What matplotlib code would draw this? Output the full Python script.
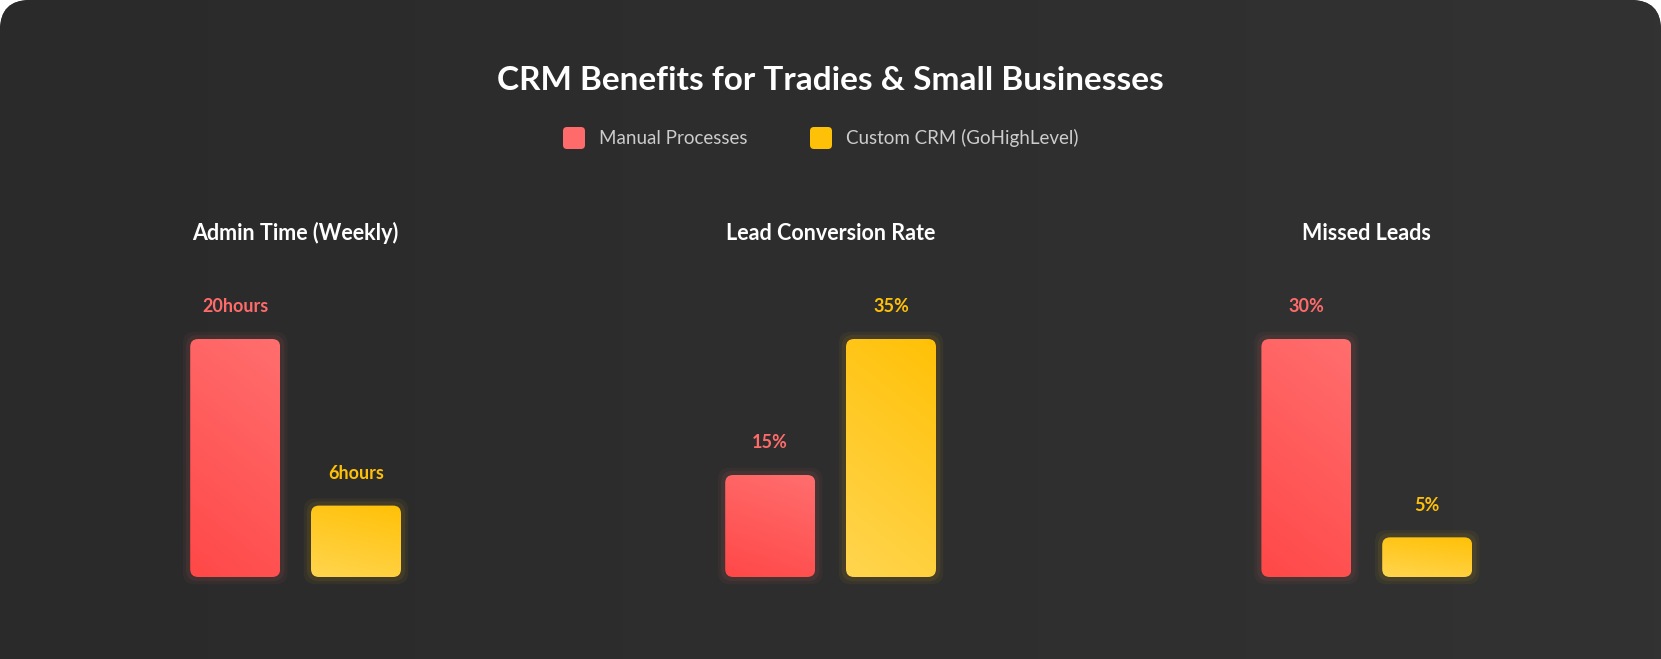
import matplotlib.pyplot as plt
import numpy as np
from matplotlib.patches import FancyBboxPatch
from matplotlib.colors import LinearSegmentedColormap

panel_titles = ["Admin Time (Weekly)", "Lead Conversion Rate", "Missed Leads"]
manual_vals = [20, 15, 30]
crm_vals = [6, 35, 5]
manual_labels = ["20hours", "15%", "30%"]
crm_labels = ["6hours", "35%", "5%"]
legend_names = ["Manual Processes", "Custom CRM (GoHighLevel)"]

W, H = 1661, 659
fig = plt.figure(figsize=(W / 100, H / 100), dpi=100, facecolor="white")
font = ["Lato", "DejaVu Sans"]

# background card, rounded only at the top
bg = fig.add_axes([0, 0, 1, 1])
bg.set_xlim(0, W); bg.set_ylim(0, H); bg.axis("off")
card = FancyBboxPatch((0, -60), W, H + 60, boxstyle="round,pad=0,rounding_size=30",
                      fc="#2d2d2d", ec="none")
bg.add_patch(card)
grad = np.linspace(0, 1, 256).reshape(1, -1)
im = bg.imshow(grad, extent=[0, W, 0, H], cmap=LinearSegmentedColormap.from_list("b", ["#2a2a2a", "#323232"]),
               aspect="auto", zorder=1)
im.set_clip_path(card)

fig.text(0.5, 1 - 81 / H, "CRM Benefits for Tradies & Small Businesses", ha="center", va="center",
         color="white", fontsize=24, fontweight="bold", family=font)

# legend
for x0, name, c in [(563, legend_names[0], "#ff6b6b"), (810, legend_names[1], "#ffc107")]:
    bg.add_patch(FancyBboxPatch((x0, H - 149), 22, 22, boxstyle="round,pad=0,rounding_size=4",
                                fc=c, ec="none", zorder=3))
    bg.text(x0 + 36, H - 138, name, color="#cccccc", fontsize=13.5, va="center", family=font, zorder=3)

red_cm = LinearSegmentedColormap.from_list("r", ["#ff4848", "#ff6e6e"])
yel_cm = LinearSegmentedColormap.from_list("y", ["#ffd54f", "#ffc107"])

centers = [295.6, 830.6, 1366.8]
ax_w = 241.6
ax_b = 1 - 577 / H
ax_h_px = 577 - 339
bar_w = 0.745

for i in range(3):
    ax = fig.add_axes([(centers[i] - ax_w / 2) / W, ax_b, ax_w / W, ax_h_px / H])
    ax.axis("off")
    ax.patch.set_alpha(0)
    top = max(manual_vals[i], crm_vals[i])
    ax.set_xlim(-0.5, 1.5)
    ax.set_ylim(0, top)
    asp = (top / ax_h_px) / (2 / ax_w)
    for j, (v, lab, cm, lc) in enumerate([(manual_vals[i], manual_labels[i], red_cm, "#ff6b6b"),
                                          (crm_vals[i], crm_labels[i], yel_cm, "#ffc107")]):
        # soft glow
        for k, a in [(0.06, 0.05), (0.035, 0.07)]:
            ax.add_patch(FancyBboxPatch((j - bar_w / 2 - k, -k * asp), bar_w + 2 * k, v + 2 * k * asp,
                                        boxstyle="round,pad=0,rounding_size=0.1", mutation_aspect=asp,
                                        fc=lc, ec="none", alpha=a, clip_on=False))
        p = FancyBboxPatch((j - bar_w / 2, 0), bar_w, v, boxstyle="round,pad=0,rounding_size=0.066",
                           mutation_aspect=asp, fc="none", ec="none")
        ax.add_patch(p)
        g = np.linspace(0, 1, 64).reshape(-1, 1) + np.linspace(0, 0.3, 64).reshape(1, -1)
        img = ax.imshow(g, extent=[j - bar_w / 2, j + bar_w / 2, 0, v], cmap=cm, origin="lower",
                        aspect="auto", zorder=2)
        img.set_clip_path(p)
        ax.text(j, v + top * 32 / ax_h_px, lab, ha="center", va="center", color=lc,
                fontsize=13, fontweight="bold", family=font, clip_on=False)
    ax.set_xlim(-0.5, 1.5)
    ax.set_ylim(0, top)
    fig.text(centers[i] / W, 1 - 233 / H, panel_titles[i], ha="center", va="center",
             color="white", fontsize=15.5, fontweight="bold", family=font)

fig.savefig("out.png", dpi=100, facecolor="white")
